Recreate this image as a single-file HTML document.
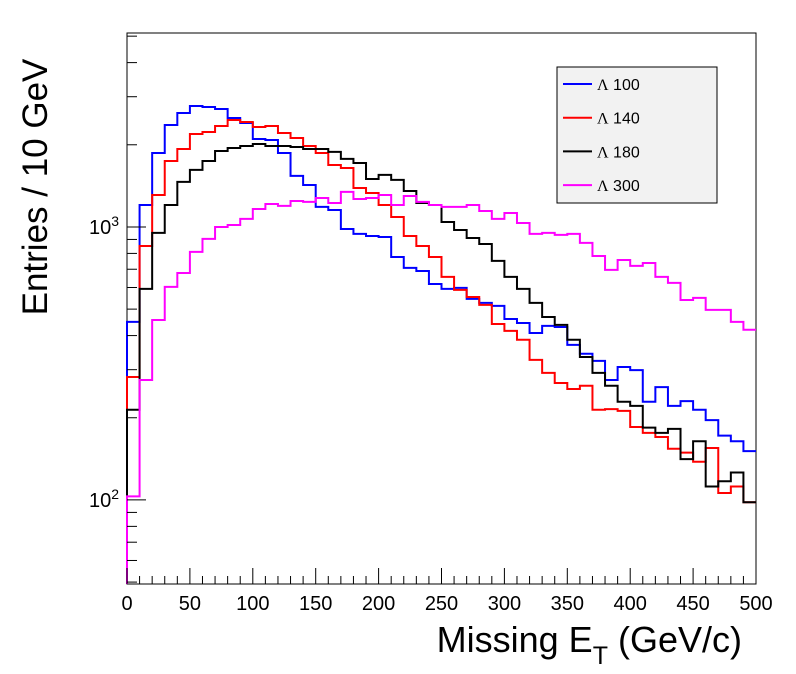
<!DOCTYPE html>
<html><head><meta charset="utf-8"><style>
html,body{margin:0;padding:0;background:#fff;}
svg{display:block;font-family:"Liberation Sans",Arial,sans-serif;}
</style></head><body>
<svg id="chart" width="796" height="674" viewBox="0 0 796 674"></svg>
<script>
const binEdgesMin = 0, binWidth = 10;
const xTickLabels = ["0","50","100","150","200","250","300","350","400","450","500"];
const seriesNames = ["Λ 100","Λ 140","Λ 180","Λ 300"];
const seriesColors = ["#0000ff","#ff0000","#000000","#ff00ff"];
const lambda100 = [449,1204,1866,2364,2616,2775,2752,2706,2507,2404,2101,2083,1866,1538,1425,1184,1154,983,943,927,919,776,708,690,618,593,598,545,527,514,460,445,409,434,430,370,343,323,275,307,299,229,259,221,230,214,196,172,164,151];
const lambda140 = [282,852,1310,1745,1931,2191,2228,2344,2466,2424,2324,2344,2210,2118,1980,1866,1687,1645,1389,1332,1204,1088,927,852,776,656,588,554,518,441,416,386,326,292,268,255,262,214,215,212,185,176,170,154,149,138,155,106,112,98];
const lambda180 = [214,593,951,1204,1462,1618,1745,1898,1947,1980,2014,1980,1980,1963,1931,1931,1883,1775,1716,1499,1551,1487,1355,1224,1204,1043,975,911,866,751,656,593,527,468,438,386,334,292,262,229,221,184,176,182,141,164,112,117,126,98];
const lambda300 = [103,275,456,603,678,810,904,1000,1017,1070,1164,1214,1194,1245,1235,1277,1224,1344,1266,1277,1310,1204,1299,1235,1204,1184,1184,1204,1144,1070,1125,1034,943,951,935,943,874,783,696,757,720,738,656,624,540,550,497,497,449,420];
const allSeries = [lambda100, lambda140, lambda180, lambda300];

const NS = "http://www.w3.org/2000/svg";
const svg = document.getElementById('chart');
const L = 127, R = 756, T = 33, B = 584;
const xMin = 0, xMax = 500, yMin = 49.2, yMax = 5135;
function xs(v){ return L + (v - xMin) / (xMax - xMin) * (R - L); }
function ys(v){ return B - (Math.log10(v) - Math.log10(yMin)) / (Math.log10(yMax) - Math.log10(yMin)) * (B - T); }
function mk(tag, attrs, parent){ const e = document.createElementNS(NS, tag); for (const k in attrs) e.setAttribute(k, attrs[k]); (parent||svg).appendChild(e); return e; }

const frame = mk('rect', {x:L, y:T, width:R-L, height:B-T, fill:'none', stroke:'#000', 'stroke-width':1});



allSeries.forEach((vals, si) => {
  let d = '';
  vals.forEach((v, i) => {
    const x0 = xs(binEdgesMin + i*binWidth), x1 = xs(binEdgesMin + (i+1)*binWidth), y = ys(v);
    d += (i === 0 ? 'M' + x0 + ',' + B + 'L' + x0 + ',' + y : 'L' + x0 + ',' + y) + 'L' + x1 + ',' + y;
  });
  const p = mk('path', {d:d, fill:'none', stroke:seriesColors[si], 'stroke-width':2});
  
  
});

const xt = mk('g', {stroke:'#000', 'stroke-width':1});


for (let v = 0; v <= 500; v += 10) {
  const major = v % 50 === 0, x = xs(v);
  mk('line', {x1:x, x2:x, y1:B, y2:B - (major ? 16 : 8)}, xt);
}
xTickLabels.forEach(lbl => {
  const t = mk('text', {x:xs(+lbl), y:610, 'font-size':20, 'text-anchor':'middle', fill:'#000'});
  t.textContent = lbl;
  
  
});

const yt = mk('g', {stroke:'#000', 'stroke-width':1});


[10,100,1000].forEach(dec => {
  for (let m = 1; m <= 9; m++) {
    const v = dec*m;
    if (v < yMin || v > yMax) continue;
    const y = ys(v);
    mk('line', {x1:L, x2:L + (m === 1 ? 19 : 10), y1:y, y2:y}, yt);
  }
});
[[100,'2'],[1000,'3']].forEach(([v,e]) => {
  const t = mk('text', {x:119, y:ys(v)+7, 'font-size':20, 'text-anchor':'end', fill:'#000'});
  t.innerHTML = '10<tspan dy="-8" font-size="14">' + e + '</tspan>';
  
  
});

const yTitle = mk('text', {x:0, y:0, 'font-size':35, 'text-anchor':'middle', fill:'#000', transform:'translate(47,187) rotate(-90)'});
yTitle.textContent = 'Entries / 10 GeV';


const xTitle = mk('text', {x:742, y:652, 'font-size':36, 'text-anchor':'end', fill:'#000'});
xTitle.innerHTML = 'Missing E<tspan dy="12" font-size="25">T</tspan><tspan dy="-12"> (GeV/c)</tspan>';



const lg = mk('g', {});


mk('rect', {x:557, y:67, width:160, height:136, fill:'#f2f2f2', stroke:'#000', 'stroke-width':1}, lg);
seriesNames.forEach((n, i) => {
  const y = 84 + i*33.7;
  const g = mk('g', {}, lg);
  
  
  mk('line', {x1:563, x2:592, y1:y, y2:y, stroke:seriesColors[i], 'stroke-width':2}, g);
  const t = mk('text', {x:597, y:y+6, 'font-size':16, fill:'#000'}, g);
  t.innerHTML = '<tspan font-family="Liberation Serif, serif">Λ</tspan> ' + n.split(' ')[1];
});
</script>
</body></html>
